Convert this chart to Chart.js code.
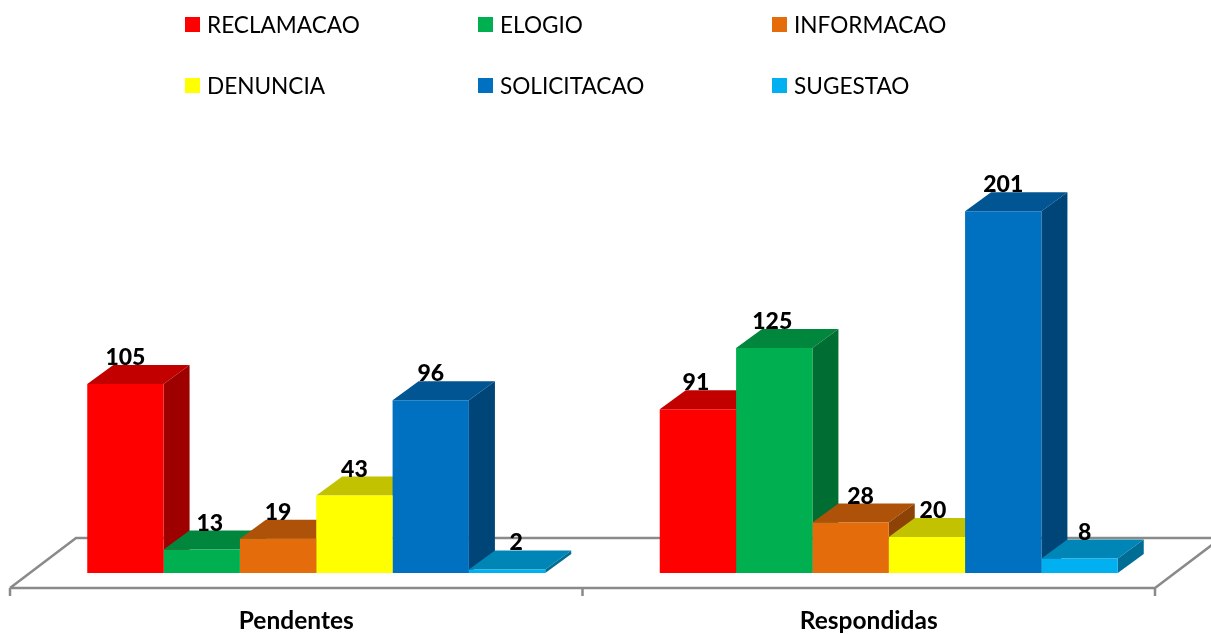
<!DOCTYPE html>
<html>
<head>
<meta charset="utf-8">
<title>Pendentes e Respondidas</title>
<script src="https://cdn.jsdelivr.net/npm/chart.js@4/dist/chart.umd.min.js"></script>
<style>
    html, body { margin: 0; padding: 0; background: #fff; overflow: hidden; }
    #wrap { position: relative; width: 1211px; height: 634px; }
    #chart { position: absolute; left: 0; top: 0; }
    #legend {
        position: absolute; left: 185px; top: 0;
        display: grid;
        grid-template-columns: 293px 294px 293px;
        grid-auto-rows: 61px;
        font: 22.6px Lato, sans-serif;
        color: #000;
    }
    .item { display: flex; align-items: center; height: 48px; }
    .box { width: 15px; height: 15px; margin-right: 7px; }
</style>
</head>
<body>
<div id="wrap">
    <canvas id="chart" width="1211" height="634"></canvas>
    <div id="legend"></div>
</div>
<script>
const categories = ["Pendentes", "Respondidas"];

const reclamacao  = [105, 91];
const elogio      = [13, 125];
const informacao  = [19, 28];
const denuncia    = [43, 20];
const solicitacao = [96, 201];
const sugestao    = [2, 8];

const seriesNames = ["RECLAMACAO", "ELOGIO", "INFORMACAO", "DENUNCIA", "SOLICITACAO", "SUGESTAO"];
const seriesData = [reclamacao, elogio, informacao, denuncia, solicitacao, sugestao];
const seriesColors = ["#FF0000", "#00B050", "#E46C0A", "#FFFF00", "#0070C0", "#00B0F0"];

// depth of the fake 3D look
const DEPTH_X = 26;
const DEPTH_Y = 19;
const FLOOR_SHIFT = 20;

// a few value labels sit off the bar centre in the original ("series,category": px)
const labelNudge = { "1,0": 8, "5,0": 9, "2,1": 10, "3,1": 6, "5,1": 5, "0,1": -2, "1,1": -2 };

function shade(hex, f) {
    const n = parseInt(hex.slice(1), 16);
    const r = Math.round((n >> 16 & 255) * f);
    const g = Math.round((n >> 8 & 255) * f);
    const b = Math.round((n & 255) * f);
    return `rgb(${r},${g},${b})`;
}

function poly(ctx, pts, color) {
    ctx.fillStyle = color;
    ctx.beginPath();
    ctx.moveTo(pts[0][0], pts[0][1]);
    for (let i = 1; i < pts.length; i++) ctx.lineTo(pts[i][0], pts[i][1]);
    ctx.closePath();
    ctx.fill();
}

const floorPlugin = {
    id: "floor",
    beforeDatasetsDraw(chart) {
        const ctx = chart.ctx;
        const area = chart.chartArea;
        const x0 = area.left - FLOOR_SHIFT;
        const x1 = area.right - FLOOR_SHIFT;
        const front = area.bottom + 15;
        const back = area.bottom - 35;
        const n = categories.length;

        ctx.save();
        ctx.strokeStyle = "#8A8A8A";
        ctx.lineWidth = 2.5;
        ctx.beginPath();
        ctx.moveTo(x0, front);
        ctx.lineTo(x1, front);
        ctx.moveTo(x0, front);
        ctx.lineTo(x0 + 66, back);
        ctx.lineTo(x1 + 66, back);
        ctx.lineTo(x1, front);
        for (let i = 0; i <= n; i++) {
            const x = x0 + (x1 - x0) * i / n;
            ctx.moveTo(x, front);
            ctx.lineTo(x, front + 8);
        }
        ctx.stroke();
        ctx.restore();
    }
};

// tops and right sides go under the library's front faces
const depthPlugin = {
    id: "depth",
    beforeDatasetsDraw(chart) {
        const ctx = chart.ctx;
        for (let c = 0; c < categories.length; c++) {
            chart.data.datasets.forEach((ds, i) => {
                const bar = chart.getDatasetMeta(i).data[c];
                const l = bar.x - bar.width / 2;
                const r = bar.x + bar.width / 2;
                const t = bar.y;
                const b = bar.base;
                poly(ctx, [[l, t], [r, t], [r + DEPTH_X, t - DEPTH_Y], [l + DEPTH_X, t - DEPTH_Y]], shade(ds.backgroundColor, 0.76));
                poly(ctx, [[r, t], [r + DEPTH_X, t - DEPTH_Y], [r + DEPTH_X, b - DEPTH_Y], [r, b]], shade(ds.backgroundColor, 0.62));
            });
        }
    },
    afterDatasetsDraw(chart) {
        const ctx = chart.ctx;
        ctx.save();
        ctx.font = "900 23px Lato, sans-serif";
        ctx.fillStyle = "#000";
        ctx.textAlign = "center";
        ctx.textBaseline = "alphabetic";
        chart.data.datasets.forEach((ds, i) => {
            chart.getDatasetMeta(i).data.forEach((bar, c) => {
                const nudge = labelNudge[i + "," + c] || 0;
                ctx.fillText(ds.data[c], bar.x + nudge, bar.y - DEPTH_Y);
            });
        });
        ctx.restore();
    }
};

const chart = new Chart(document.getElementById("chart"), {
    type: "bar",
    data: {
        labels: categories,
        datasets: seriesNames.map((name, i) => ({
            label: name,
            data: seriesData[i],
            backgroundColor: seriesColors[i],
            borderWidth: 0,
            categoryPercentage: 0.8,
            barPercentage: 1
        }))
    },
    options: {
        responsive: false,
        animation: false,
        layout: { padding: { left: 30, right: 36, top: 141, bottom: 0 } },
        plugins: {
            legend: { display: false },
            tooltip: { enabled: false }
        },
        scales: {
            x: {
                grid: { display: false },
                border: { display: false },
                afterFit(scale) { scale.height = 61; },
                ticks: {
                    color: "#000",
                    padding: 25,
                    labelOffset: -FLOOR_SHIFT,
                    font: { family: "Lato, sans-serif", size: 24.5, weight: "bold" }
                }
            },
            y: { display: false, min: 0, max: 240 }
        }
    },
    plugins: [floorPlugin, depthPlugin]
});

// legend as two rows of three fixed columns
const legendEl = document.getElementById("legend");
chart.data.datasets.forEach(ds => {
    const item = document.createElement("div");
    item.className = "item";
    const box = document.createElement("span");
    box.className = "box";
    box.style.background = ds.backgroundColor;
    const text = document.createElement("span");
    text.textContent = ds.label;
    item.append(box, text);
    legendEl.append(item);
});
</script>
</body>
</html>
